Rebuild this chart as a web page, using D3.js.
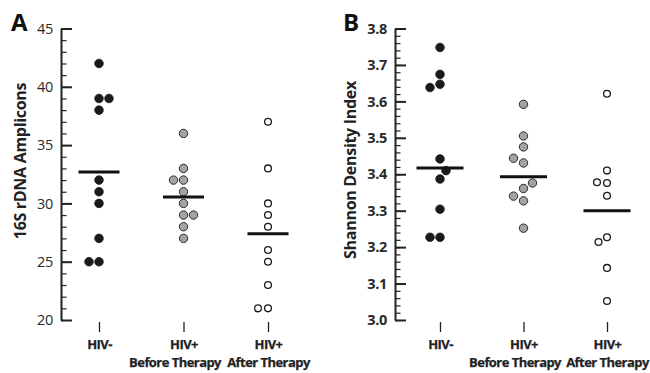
<!DOCTYPE html>
<html>
<head>
<meta charset="utf-8">
<script src="https://cdn.jsdelivr.net/npm/d3@7"></script>
<style>
  body { margin: 0; background: #fff; }
  svg { display: block; font-family: "Open Sans", sans-serif; }
</style>
</head>
<body>
<div id="chart"></div>
<script>
// categories
const groupKeys = ['neg', 'before', 'after'];
const labelTop = ['HIV-', 'HIV+', 'HIV+'];
const labelBottom = ['', 'Before Therapy', 'After Therapy'];

// panel A: 16S rDNA amplicons
const ampNeg = [42, 39, 39, 38, 32, 31, 30, 27, 25, 25];
const ampNegLane = [0, 0, 1, 0, 0, 0, 0, 0, -1, 0];
const ampBefore = [36, 33, 32, 32, 31, 30, 29, 29, 28, 27];
const ampBeforeLane = [0, 0, -1, 0, 0, 0, 0, 1, 0, 0];
const ampAfter = [37, 33, 30, 29, 28, 26, 25, 23, 21, 21];
const ampAfterLane = [0, 0, 0, 0, 0, 0, 0, 0, -1, 0];
const ampLines = [32.7, 30.55, 27.4];
const ampTicks = [20, 25, 30, 35, 40, 45];

// panel B: Shannon index
const shNeg = [3.748, 3.674, 3.647, 3.638, 3.442, 3.41, 3.387, 3.304, 3.227, 3.227];
const shNegLane = [0, 0, 0, -1, 0, 0.6, 0, 0, -1, 0];
const shBefore = [3.592, 3.505, 3.475, 3.444, 3.431, 3.376, 3.361, 3.34, 3.327, 3.252];
const shBeforeLane = [0, 0, 0, -1, 0, 0.9, 0, -1, 0, 0];
const shAfter = [3.621, 3.41, 3.378, 3.376, 3.341, 3.227, 3.214, 3.143, 3.052];
const shAfterLane = [0, 0, -1, 0, 0, 0, -0.85, 0, 0];
const shLines = [3.417, 3.393, 3.300];
const shTicks = [3.0, 3.1, 3.2, 3.3, 3.4, 3.5, 3.6, 3.7, 3.8];

const dotStyle = {
  neg:    { fill: '#1a1a1a', stroke: '#1a1a1a', r: 4.3, sw: 0.8 },
  before: { fill: '#a3a3a3', stroke: '#2a2a2a', r: 4.2, sw: 1 },
  after:  { fill: '#ffffff', stroke: '#1a1a1a', r: 3.4, sw: 1.3 }
};

// second label line of the middle group sits a bit left of its tick
const subShift = { neg: 0, before: -9, after: 0 };

const W = 650, H = 373;
const svg = d3.select('#chart').append('svg')
  .attr('width', W)
  .attr('height', H);

function drawPanel(opts) {
  const g = svg.append('g');

  const y = d3.scaleLinear().domain(opts.domain).range([320, 28.5]);
  const x = d3.scalePoint().domain(groupKeys).range(opts.xRange);

  // minor ticks
  g.append('g')
    .attr('transform', `translate(${opts.axisX},0)`)
    .call(d3.axisLeft(y).ticks(opts.minorCount).tickSizeInner(-5.5).tickSizeOuter(0).tickFormat(''))
    .call(a => a.select('.domain').remove())
    .call(a => a.selectAll('line').attr('stroke', '#222').attr('stroke-width', 1.2));

  // major ticks + labels
  g.append('g')
    .attr('transform', `translate(${opts.axisX},0)`)
    .call(d3.axisLeft(y).tickValues(opts.ticks).tickSizeInner(-11).tickSizeOuter(0)
      .tickPadding(8).tickFormat(opts.fmt))
    .call(a => a.select('.domain').attr('stroke', '#222').attr('stroke-width', 2))
    .call(a => a.selectAll('line').attr('stroke', '#222').attr('stroke-width', 2))
    .call(a => a.selectAll('text')
      .attr('font-family', '"Open Sans", sans-serif')
      .attr('font-size', 14.5)
      .attr('font-weight', opts.tickWeight)
      .attr('letter-spacing', -0.3)
      .attr('fill', '#2a2a2a'));

  // category axis
  const cat = g.append('g')
    .attr('transform', 'translate(0,322)')
    .call(d3.axisBottom(x).tickSizeInner(10).tickSizeOuter(0))
    .call(a => a.select('.domain').remove())
    .call(a => a.selectAll('line').attr('stroke', '#222').attr('stroke-width', 1.3));
  cat.selectAll('.tick text').remove();
  cat.selectAll('.tick').each(function (d, i) {
    const t = d3.select(this).append('text')
      .attr('text-anchor', 'middle')
      .attr('font-family', '"Open Sans", sans-serif')
      .attr('font-size', 13)
      .attr('font-weight', 700)
      .attr('letter-spacing', -0.55)
      .attr('fill', '#222')
      .attr('stroke', '#222')
      .attr('stroke-width', 0.25);
    t.append('tspan').attr('x', 0).attr('y', 27).text(labelTop[i]);
    t.append('tspan').attr('x', subShift[d]).attr('y', 45).text(labelBottom[i]);
  });

  // dots
  opts.series.forEach((s, gi) => {
    const key = groupKeys[gi];
    const st = dotStyle[key];
    g.append('g').selectAll('circle')
      .data(s.values.map((v, i) => ({ v, lane: s.lanes[i] })))
      .join('circle')
      .attr('cx', d => x(key) + d.lane * 10)
      .attr('cy', d => y(d.v))
      .attr('r', st.r)
      .attr('fill', st.fill)
      .attr('stroke', st.stroke)
      .attr('stroke-width', st.sw);
  });

  // average lines
  g.append('g').selectAll('line')
    .data(opts.lines)
    .join('line')
    .attr('x1', (d, i) => x(groupKeys[i]) - opts.lineHalf)
    .attr('x2', (d, i) => x(groupKeys[i]) + opts.lineHalf)
    .attr('y1', d => y(d))
    .attr('y2', d => y(d))
    .attr('stroke', '#111')
    .attr('stroke-width', 3);

  // y axis title
  g.append('text')
    .attr('transform', `translate(${opts.titleX},${opts.titleY}) rotate(-90)`)
    .attr('text-anchor', 'middle')
    .attr('font-family', '"Open Sans", sans-serif')
    .attr('font-size', 16)
    .attr('font-weight', 700)
    .attr('letter-spacing', -0.3)
    .attr('fill', '#222')
    .text(opts.title);

  // panel letter
  g.append('text')
    .attr('x', opts.letterX)
    .attr('y', 31)
    .attr('font-family', '"Open Sans", sans-serif')
    .attr('font-size', 24)
    .attr('font-weight', 700)
    .attr('fill', '#111')
    .text(opts.letter);
}

drawPanel({
  letter: 'A', letterX: 11,
  title: '16S rDNA Amplicons', titleX: 26, titleY: 161,
  axisX: 61, xRange: [99, 268],
  domain: [20, 45], ticks: ampTicks, minorCount: 25,
  fmt: d3.format('d'), tickWeight: 400,
  lineHalf: 20.5,
  series: [
    { values: ampNeg, lanes: ampNegLane },
    { values: ampBefore, lanes: ampBeforeLane },
    { values: ampAfter, lanes: ampAfterLane }
  ],
  lines: ampLines
});

drawPanel({
  letter: 'B', letterX: 343,
  title: 'Shannon Density Index', titleX: 356, titleY: 170,
  axisX: 395, xRange: [440, 607],
  domain: [3.0, 3.8], ticks: shTicks, minorCount: 40,
  fmt: d3.format('.1f'), tickWeight: 700,
  lineHalf: 23.5,
  series: [
    { values: shNeg, lanes: shNegLane },
    { values: shBefore, lanes: shBeforeLane },
    { values: shAfter, lanes: shAfterLane }
  ],
  lines: shLines
});
</script>
</body>
</html>
